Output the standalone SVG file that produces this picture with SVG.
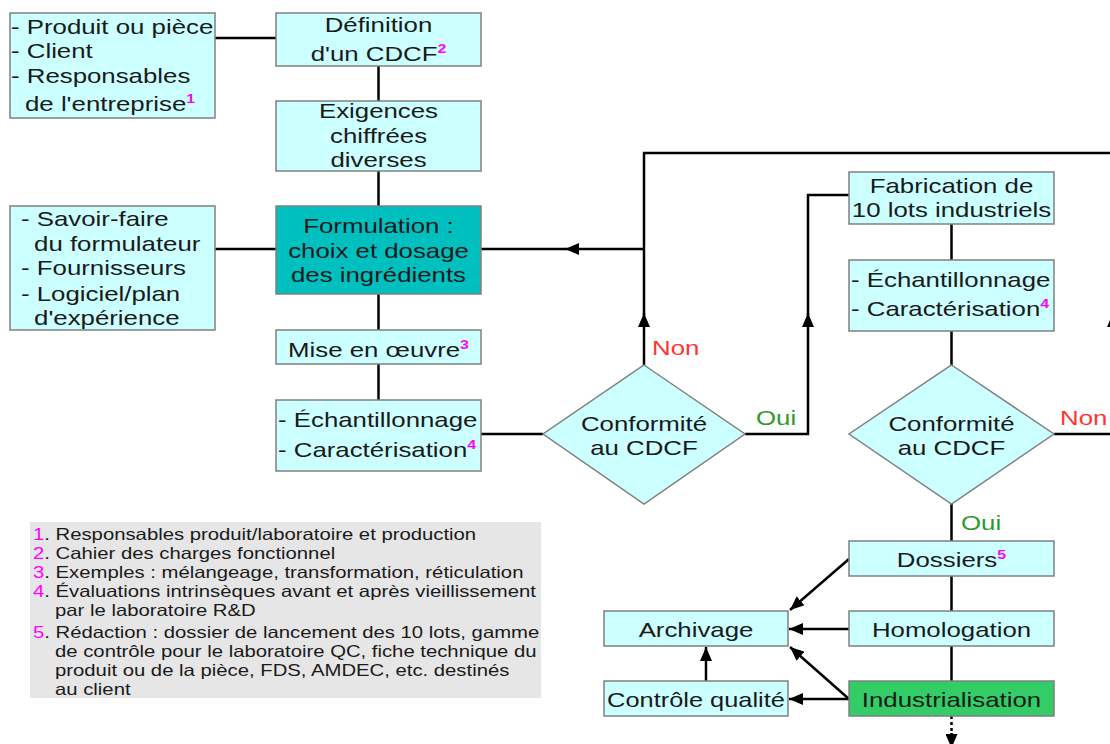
<svg xmlns="http://www.w3.org/2000/svg" width="1110" height="744" viewBox="0 0 1110 744">
<defs>
<marker id="ah" markerUnits="userSpaceOnUse" markerWidth="14" markerHeight="12" refX="14" refY="6" orient="auto"><path d="M0,0 L14,6 L0,12 z" fill="#000"/></marker>
</defs>
<style>
.box{fill:#ccffff;stroke:#808080;stroke-width:1.5}
.t{font-family:"Liberation Sans",Arial,sans-serif;font-size:21px;fill:#1a1a1a}
.c{text-anchor:middle}
.sup{font-size:13px;font-weight:bold;fill:#ff00ff}
.ln{fill:none;stroke:#000;stroke-width:2.5}
.ar{fill:none;stroke:#000;stroke-width:2.5;marker-end:url(#ah)}
.non{fill:#ff3333}
.oui{fill:#2e9a2e}
.leg{font-family:"Liberation Sans",Arial,sans-serif;font-size:16.5px;fill:#1a1a1a}
.num{fill:#ff00ff}
</style>
<rect x="0" y="0" width="1110" height="744" fill="#fff"/>

<g id="connectors">
<path class="ln" d="M215,38 H276"/>
<path class="ln" d="M378.5,66 V101"/>
<path class="ln" d="M378.5,171 V206"/>
<path class="ln" d="M215,249 H276"/>
<path class="ln" d="M378.5,294 V330"/>
<path class="ln" d="M378.5,364 V400"/>
<path class="ln" d="M566,249 H481"/>
<path class="ar" d="M644,249 H565"/>
<path class="ar" d="M644,365 V313"/>
<path class="ln" d="M644,315 V153 H1120"/>
<path class="ln" d="M481,434 H543"/>
<path class="ar" d="M745,434 H808 V313"/>
<path class="ln" d="M808,315 V195 H849"/>
<path class="ln" d="M951.5,224 V260"/>
<path class="ln" d="M951.5,331 V365"/>
<path class="ar" d="M1054,434 H1113 V313"/>
<path class="ln" d="M1113,315 V153"/>
<path class="ln" d="M951.5,504 V541"/>
<path class="ln" d="M951.5,576 V611"/>
<path class="ln" d="M951.5,646 V681"/>
<path class="ar" d="M849,559 L790,610"/>
<path class="ar" d="M849,629 H789"/>
<path class="ar" d="M849,699 L790,647"/>
<path class="ar" d="M849,699 H789"/>
<path class="ar" d="M706,681 V647"/>
<path class="ln" d="M951.5,716 V734" stroke-dasharray="3,3"/>
<path class="ar" d="M951.5,733 V748"/>
<text class="t non" transform="translate(652 0) scale(1.23 1)" x="0" y="355">Non</text>
<text class="t oui" transform="translate(756 0) scale(1.23 1)" x="0" y="425">Oui</text>
<text class="t non" transform="translate(1060 0) scale(1.23 1)" x="0" y="425">Non</text>
<text class="t oui" transform="translate(961 0) scale(1.23 1)" x="0" y="530">Oui</text>
</g>

<g id="n-acteurs">
<rect class="box" x="10" y="13" width="205" height="105"/>
<g class="t" transform="translate(11 0) scale(1.23 1)">
<text x="0" y="34">- Produit ou pièce</text>
<text x="0" y="58">- Client</text>
<text x="0" y="83">- Responsables</text>
<text x="11.4" y="111">de l'entreprise<tspan class="sup" dy="-8">1</tspan></text>
</g>
</g>

<g id="n-definition">
<rect class="box" x="276" y="13" width="205" height="53"/>
<g class="t c" transform="translate(378.5 0) scale(1.23 1)">
<text x="0" y="32">Définition</text>
<text x="0" y="61">d'un CDCF<tspan class="sup" dy="-8">2</tspan></text>
</g>
</g>

<g id="n-exigences">
<rect class="box" x="276" y="101" width="205" height="70"/>
<g class="t c" transform="translate(378.5 0) scale(1.23 1)">
<text x="0" y="118">Exigences</text>
<text x="0" y="143">chiffrées</text>
<text x="0" y="167">diverses</text>
</g>
</g>

<g id="n-savoir">
<rect class="box" x="10" y="206" width="205" height="124"/>
<g class="t" transform="translate(21 0) scale(1.23 1)">
<text x="0" y="226">- Savoir-faire</text>
<text x="10.6" y="251">du formulateur</text>
<text x="0" y="275">- Fournisseurs</text>
<text x="0" y="301">- Logiciel/plan</text>
<text x="10.6" y="325">d'expérience</text>
</g>
</g>

<g id="n-formulation">
<rect x="276" y="206" width="205" height="88" fill="#00bfbf" stroke="#808080" stroke-width="1.5"/>
<g class="t c" transform="translate(378.5 0) scale(1.23 1)">
<text x="0" y="233">Formulation :</text>
<text x="0" y="258">choix et dosage</text>
<text x="0" y="282">des ingrédients</text>
</g>
</g>

<g id="n-mise">
<rect class="box" x="276" y="330" width="205" height="34"/>
<text class="t c" transform="translate(378.5 0) scale(1.23 1)" x="0" y="357">Mise en œuvre<tspan class="sup" dy="-8">3</tspan></text>
</g>

<g id="n-echant1">
<rect class="box" x="276" y="400" width="205" height="71"/>
<g class="t" transform="translate(278 0) scale(1.23 1)">
<text x="0" y="427">- Échantillonnage</text>
<text x="0" y="457">- Caractérisation<tspan class="sup" dy="-8">4</tspan></text>
</g>
</g>

<g id="n-conf1">
<polygon class="box" points="644,365 745,434 644,504 543,434"/>
<g class="t c" transform="translate(644 0) scale(1.23 1)">
<text x="0" y="431">Conformité</text>
<text x="0" y="455">au CDCF</text>
</g>
</g>

<g id="n-fabrication">
<rect class="box" x="849" y="172" width="205" height="52"/>
<text class="t c" transform="translate(951.5 0) scale(1.23 1)" x="0" y="193">Fabrication de</text>
<text class="t c" transform="translate(951.5 0) scale(1.23 1)" x="0" y="217">10 lots industriels</text>
</g>

<g id="n-echant2">
<rect class="box" x="849" y="260" width="205" height="71"/>
<g class="t" transform="translate(851 0) scale(1.23 1)">
<text x="0" y="287">- Échantillonnage</text>
<text x="0" y="316">- Caractérisation<tspan class="sup" dy="-8">4</tspan></text>
</g>
</g>

<g id="n-conf2">
<polygon class="box" points="951.5,365 1054,434 951.5,504 849,434"/>
<g class="t c" transform="translate(951.5 0) scale(1.23 1)">
<text x="0" y="431">Conformité</text>
<text x="0" y="455">au CDCF</text>
</g>
</g>

<g id="n-dossiers">
<rect class="box" x="849" y="541" width="205" height="35"/>
<text class="t c" transform="translate(951.5 0) scale(1.23 1)" x="0" y="567">Dossiers<tspan class="sup" dy="-8">5</tspan></text>
</g>

<g id="n-homologation">
<rect class="box" x="849" y="611" width="205" height="35"/>
<text class="t c" transform="translate(951.5 0) scale(1.23 1)" x="0" y="637">Homologation</text>
</g>

<g id="n-industrialisation">
<rect x="849" y="681" width="205" height="35" fill="#33cc66" stroke="#808080" stroke-width="1.5"/>
<text class="t c" transform="translate(951.5 0) scale(1.23 1)" x="0" y="707">Industrialisation</text>
</g>

<g id="n-archivage">
<rect class="box" x="604" y="611" width="184" height="35"/>
<text class="t c" transform="translate(696 0) scale(1.23 1)" x="0" y="637">Archivage</text>
</g>

<g id="n-controle">
<rect class="box" x="604" y="681" width="184" height="35"/>
<text class="t c" transform="translate(696 0) scale(1.21 1)" x="0" y="707">Contrôle qualité</text>
</g>

<g id="legend">
<rect x="30" y="522" width="511" height="176" fill="#e6e6e6"/>
<g class="leg" transform="translate(33 0) scale(1.23 1)">
<text x="0" y="540"><tspan class="num">1</tspan>. Responsables produit/laboratoire et production</text>
<text x="0" y="559"><tspan class="num">2</tspan>. Cahier des charges fonctionnel</text>
<text x="0" y="578"><tspan class="num">3</tspan>. Exemples : mélangeage, transformation, réticulation</text>
<text x="0" y="597"><tspan class="num">4</tspan>. Évaluations intrinsèques avant et après vieillissement</text>
<text x="17.9" y="616">par le laboratoire R&amp;D</text>
<text x="0" y="638"><tspan class="num">5</tspan>. Rédaction : dossier de lancement des 10 lots, gamme</text>
<text x="17.9" y="657">de contrôle pour le laboratoire QC, fiche technique du</text>
<text x="17.9" y="676">produit ou de la pièce, FDS, AMDEC, etc. destinés</text>
<text x="17.9" y="695">au client</text>
</g>
</g>
</svg>
